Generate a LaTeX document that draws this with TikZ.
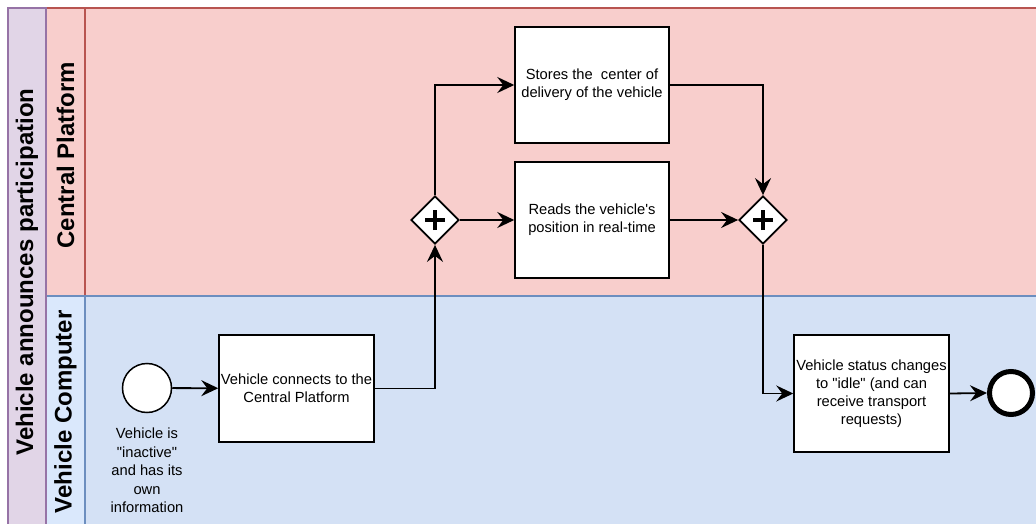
\documentclass[tikz,border=0pt]{standalone}
\usepackage{fontspec}
\setmainfont{Liberation Sans}[Ligatures=TeXOff]
\usetikzlibrary{arrows.meta,shapes.geometric}

\definecolor{poolfill}{HTML}{E1D5E7}
\definecolor{poolline}{HTML}{9673A6}
\definecolor{redfill}{HTML}{F8CECC}
\definecolor{redline}{HTML}{B85450}
\definecolor{bluefill}{HTML}{D4E1F5}
\definecolor{bluehead}{HTML}{DAE8FC}
\definecolor{blueline}{HTML}{6C8EBF}

\begin{document}
\begin{tikzpicture}[x=1pt,y=-1pt,
  lanelabel/.style={rotate=90, font=\bfseries\fontsize{24}{28}\selectfont, inner sep=0},
  taskbox/.style={draw, fill=white, line width=1.5pt, inner sep=0, align=center,
    font=\fontsize{14.7}{18}\selectfont},
  startev/.style={circle, draw, fill=white, line width=1.5pt, inner sep=0, minimum size=49pt},
  endev/.style={circle, draw, fill=white, line width=5pt, inner sep=0, minimum size=43pt},
  parallelgw/.style={diamond, draw, fill=white, line width=1.8pt, inner sep=0,
    minimum width=48pt, minimum height=48pt,
    path picture={
      \draw[line width=4.5pt] ([xshift=-10pt]path picture bounding box.center) -- ([xshift=10pt]path picture bounding box.center);
      \draw[line width=4.5pt] ([yshift=-10pt]path picture bounding box.center) -- ([yshift=10pt]path picture bounding box.center);
    }},
  flow/.style={line width=1.8pt, -{Stealth[length=17pt,width=16pt,inset=6pt]}}
]
\useasboundingbox (0,0) rectangle (1036,524);
\clip (0,0) rectangle (1036,524);

% pool and lanes
\filldraw[fill=redfill, draw=redline, line width=1.5pt] (46,8) rectangle (1060,296);
\filldraw[fill=bluefill, draw=blueline, line width=1.5pt] (46,296) rectangle (1060,560);
\fill[bluehead] (46,296) rectangle (85,560);
\draw[redline, line width=1.5pt] (85,8) -- (85,296);
\draw[blueline, line width=1.5pt] (85,296) -- (85,560) (46,296) -- (1060,296);
\filldraw[fill=poolfill, draw=poolline, line width=1.5pt] (8,8) rectangle (46,560);

\node[lanelabel] (poolname) at (27,272) {Vehicle announces participation};
\node[lanelabel] (lanecp) at (65.5,155) {Central Platform};
\node[lanelabel] (lanevc) at (65.5,412) {Vehicle Computer};

% events, tasks and gateways
\node[startev] (start) at (147,388) {};
\node[font=\fontsize{14.7}{18.5}\selectfont, align=center, anchor=north, inner sep=0] (startlbl) at (147,428)
  {Vehicle is\\"inactive"\\and has its\\own\\information};

\node[taskbox, minimum width=155pt, minimum height=107pt] (t1) at (296.5,388.5)
  {Vehicle connects to the\\Central Platform};
\node[parallelgw] (g1) at (435,220) {};
\node[taskbox, minimum width=154pt, minimum height=116pt] (t2) at (592,85)
  {Stores the~ center of\\delivery of the vehicle};
\node[taskbox, minimum width=154pt, minimum height=116pt] (t3) at (592,220)
  {Reads the vehicle's\\position in real-time};
\node[parallelgw] (g2) at (763,220) {};
\node[taskbox, minimum width=155pt, minimum height=117pt] (t4) at (871.5,393.5)
  {Vehicle status changes\\to "idle" (and can\\receive transport\\requests)};
\node[endev] (end) at (1011,393) {};

% sequence flows
\draw[flow] (start) -- (t1);
\draw[flow] (t1.east) -| (g1.south);
\draw[flow] (g1.north) |- (t2.west);
\draw[flow] (g1.east) -- (t3.west);
\draw[flow] (t2.east) -| (g2.north);
\draw[flow] (t3.east) -- (g2.west);
\draw[flow] (g2.south) |- (t4.west);
\draw[flow] (t4.east) -- (end.west);
\end{tikzpicture}
\end{document}
